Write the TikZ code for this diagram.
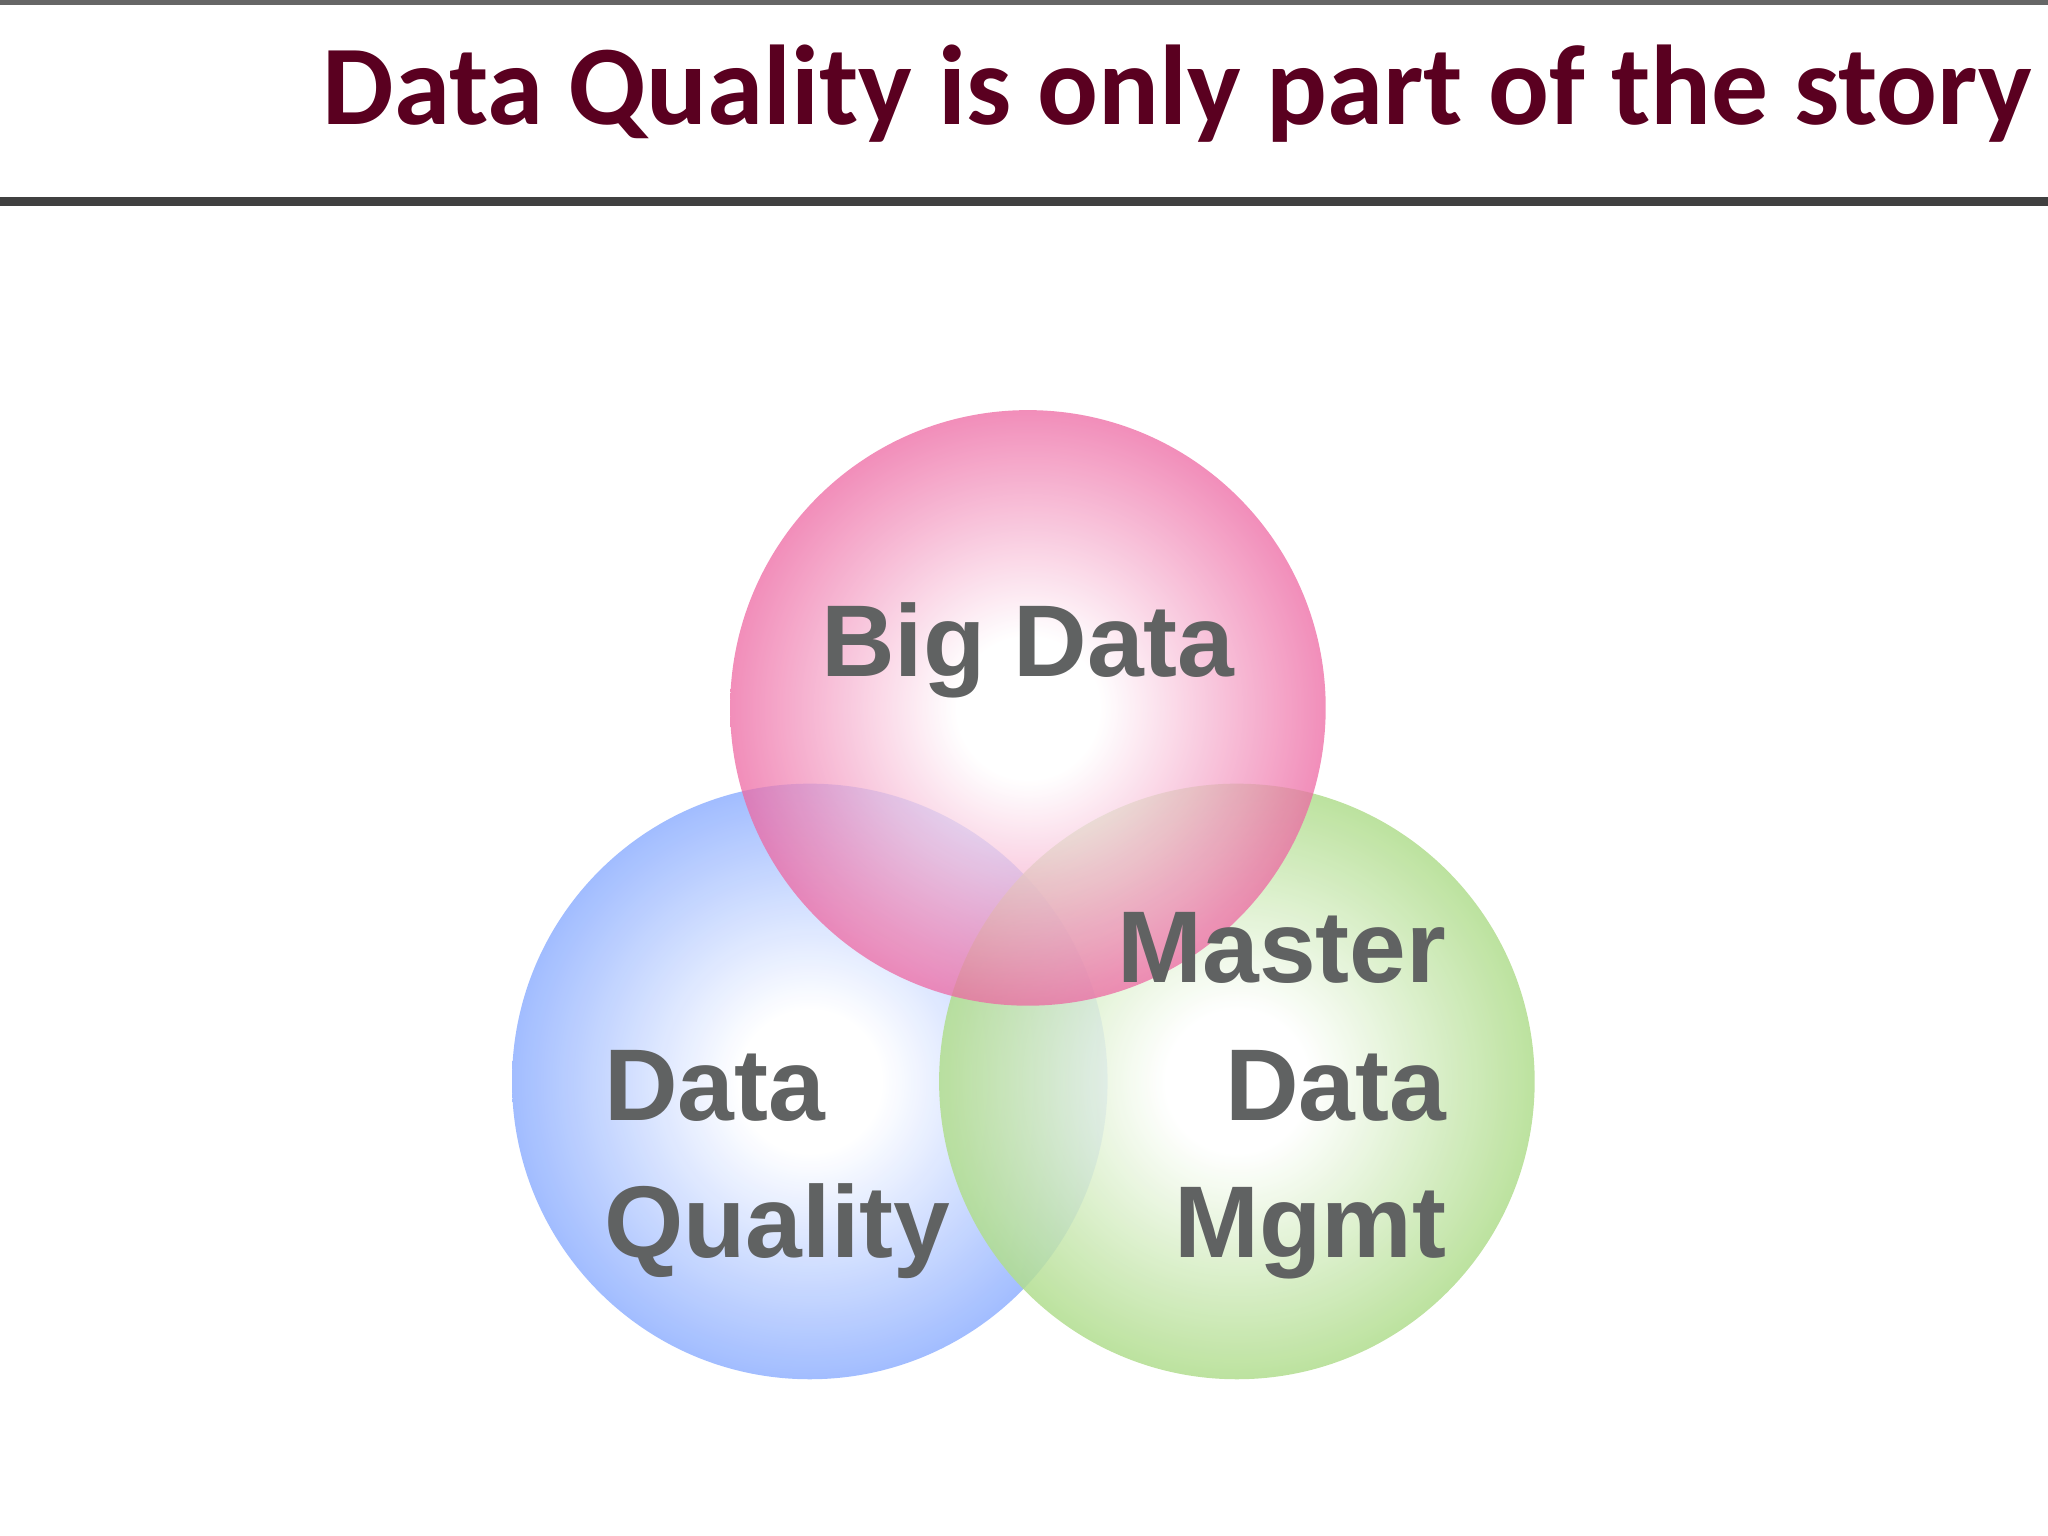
\documentclass[tikz,border=0pt]{standalone}
\usepackage{fontspec}
\newfontfamily\titlefont{Carlito}
\newfontfamily\labelfont{Liberation Sans}
\definecolor{titlec}{HTML}{5A0020}
\definecolor{labelc}{HTML}{606262}
\definecolor{pinkc}{HTML}{E8408A}
\definecolor{bluec}{HTML}{7CA2FF}
\definecolor{greenc}{HTML}{9CD470}
\pgfdeclareradialshading{pinkball}{\pgfpoint{0bp}{0bp}}{color(0bp)=(white); color(6bp)=(white); color(30bp)=(pinkc); color(50bp)=(pinkc)}
\pgfdeclareradialshading{blueball}{\pgfpoint{0bp}{0bp}}{color(0bp)=(white); color(6bp)=(white); color(30bp)=(bluec); color(50bp)=(bluec)}
\pgfdeclareradialshading{greenball}{\pgfpoint{0bp}{0bp}}{color(0bp)=(white); color(6bp)=(white); color(30bp)=(greenc); color(50bp)=(greenc)}
\begin{document}
\begin{tikzpicture}[x=0.01cm,y=-0.01cm,
  lbl/.style={text=labelc,font=\labelfont\bfseries\fontsize{22.2}{30}\selectfont,inner sep=0pt}]
\useasboundingbox (0,0) rectangle (1568,1176);
\draw[gray!80!black,line width=1pt] (0,2) -- (1568,2);
\draw[black!75,line width=2pt] (0,154) -- (1568,154);
\node[anchor=base east,text=titlec,font=\titlefont\bfseries\fontsize{24.7}{30}\selectfont,inner sep=0pt] (title) at (1556,95) {Data Quality is only part of the story};
\shade[shading=blueball,fill opacity=0.9] (620,828) circle (228);
\shade[shading=greenball,fill opacity=0.85] (947,828) circle (228);
\shade[shading=pinkball,fill opacity=0.75] (787,542) circle (228);
\node[lbl,anchor=base] (bd) at (787,518) {Big Data};
\node[lbl,anchor=base west] (dq1) at (462,858) {Data};
\node[lbl,anchor=base west] (dq2) at (462,963) {Quality};
\node[lbl,anchor=base east] (md1) at (1108,752) {Master};
\node[lbl,anchor=base east] (md2) at (1108,858) {Data};
\node[lbl,anchor=base east] (md3) at (1108,963) {Mgmt};
\end{tikzpicture}
\end{document}
